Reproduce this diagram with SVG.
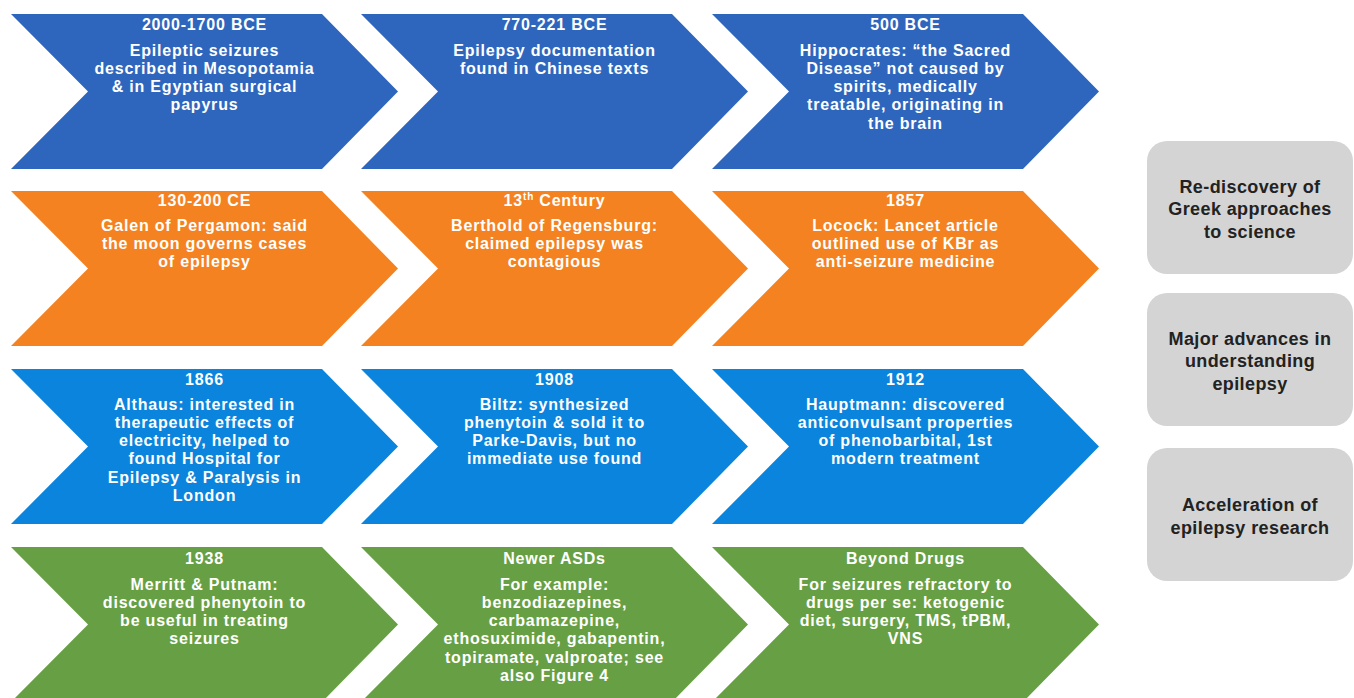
<svg xmlns="http://www.w3.org/2000/svg" width="1354" height="698" viewBox="0 0 1354 698">
<style>
.t{font-family:"Liberation Sans",Arial,sans-serif;font-weight:bold;font-size:16px;fill:#ffffff;text-anchor:middle;letter-spacing:0.8px}
.g{font-family:"Liberation Sans",Arial,sans-serif;font-weight:bold;font-size:18px;fill:#222222;text-anchor:middle;letter-spacing:0.4px}
.r1{fill:#2E66BE}.r2{fill:#F58220}.r3{fill:#0A84DD}.r4{fill:#67A044}
.box{fill:#D4D4D4}
</style>
<defs>
<path id="chev" d="M0 0 L311 0 L387 77.5 L311 155 L0 155 L77 77.5 Z"/>
</defs>
<rect width="1354" height="698" fill="#ffffff"/>
<g id="connectors"></g>

<!-- Row 1 -->
<g id="n-2000bce">
<use href="#chev" x="11" y="14" class="r1"/>
<text class="t" x="204.5"><tspan x="204.5" y="29.5">2000-1700 BCE</tspan><tspan x="204.5" y="55.5">Epileptic seizures</tspan><tspan x="204.5" y="73.8">described in Mesopotamia</tspan><tspan x="204.5" y="92.1">&amp; in Egyptian surgical</tspan><tspan x="204.5" y="110.4">papyrus</tspan></text>
</g>
<g id="n-770bce">
<use href="#chev" x="361" y="14" class="r1"/>
<text class="t"><tspan x="554.5" y="29.5">770-221 BCE</tspan><tspan x="554.5" y="55.5">Epilepsy documentation</tspan><tspan x="554.5" y="73.8">found in Chinese texts</tspan></text>
</g>
<g id="n-500bce">
<use href="#chev" x="712" y="14" class="r1"/>
<text class="t"><tspan x="905.5" y="29.5">500 BCE</tspan><tspan x="905.5" y="55.5">Hippocrates: “the Sacred</tspan><tspan x="905.5" y="73.8">Disease” not caused by</tspan><tspan x="905.5" y="92.1">spirits, medically</tspan><tspan x="905.5" y="110.4">treatable, originating in</tspan><tspan x="905.5" y="128.7">the brain</tspan></text>
</g>

<!-- Row 2 -->
<g id="n-130ce">
<use href="#chev" x="11" y="191" class="r2"/>
<text class="t"><tspan x="204.5" y="205.5">130-200 CE</tspan><tspan x="204.5" y="230.5">Galen of Pergamon: said</tspan><tspan x="204.5" y="248.8">the moon governs cases</tspan><tspan x="204.5" y="267.1">of epilepsy</tspan></text>
</g>
<g id="n-13th">
<use href="#chev" x="361" y="191" class="r2"/>
<text class="t"><tspan x="554.5" y="205.5">13<tspan dy="-6" font-size="10">th</tspan><tspan dy="6"> Century</tspan></tspan><tspan x="554.5" y="230.5">Berthold of Regensburg:</tspan><tspan x="554.5" y="248.8">claimed epilepsy was</tspan><tspan x="554.5" y="267.1">contagious</tspan></text>
</g>
<g id="n-1857">
<use href="#chev" x="712" y="191" class="r2"/>
<text class="t"><tspan x="905.5" y="205.5">1857</tspan><tspan x="905.5" y="230.5">Locock: Lancet article</tspan><tspan x="905.5" y="248.8">outlined use of KBr as</tspan><tspan x="905.5" y="267.1">anti-seizure medicine</tspan></text>
</g>

<!-- Row 3 -->
<g id="n-1866">
<use href="#chev" x="11" y="369" class="r3"/>
<text class="t"><tspan x="204.5" y="384.5">1866</tspan><tspan x="204.5" y="409.5">Althaus: interested in</tspan><tspan x="204.5" y="427.8">therapeutic effects of</tspan><tspan x="204.5" y="446.1">electricity, helped to</tspan><tspan x="204.5" y="464.4">found Hospital for</tspan><tspan x="204.5" y="482.7">Epilepsy &amp; Paralysis in</tspan><tspan x="204.5" y="501">London</tspan></text>
</g>
<g id="n-1908">
<use href="#chev" x="361" y="369" class="r3"/>
<text class="t"><tspan x="554.5" y="384.5">1908</tspan><tspan x="554.5" y="409.5">Biltz: synthesized</tspan><tspan x="554.5" y="427.8">phenytoin &amp; sold it to</tspan><tspan x="554.5" y="446.1">Parke-Davis, but no</tspan><tspan x="554.5" y="464.4">immediate use found</tspan></text>
</g>
<g id="n-1912">
<use href="#chev" x="712" y="369" class="r3"/>
<text class="t"><tspan x="905.5" y="384.5">1912</tspan><tspan x="905.5" y="409.5">Hauptmann: discovered</tspan><tspan x="905.5" y="427.8">anticonvulsant properties</tspan><tspan x="905.5" y="446.1">of phenobarbital, 1st</tspan><tspan x="905.5" y="464.4">modern treatment</tspan></text>
</g>

<!-- Row 4 -->
<g id="n-1938">
<use href="#chev" x="11" y="547" class="r4"/>
<text class="t"><tspan x="204.5" y="563.5">1938</tspan><tspan x="204.5" y="589.5">Merritt &amp; Putnam:</tspan><tspan x="204.5" y="607.8">discovered phenytoin to</tspan><tspan x="204.5" y="626.1">be useful in treating</tspan><tspan x="204.5" y="644.4">seizures</tspan></text>
</g>
<g id="n-newer">
<use href="#chev" x="361" y="547" class="r4"/>
<text class="t"><tspan x="554.5" y="563.5">Newer ASDs</tspan><tspan x="554.5" y="589.5">For example:</tspan><tspan x="554.5" y="607.8">benzodiazepines,</tspan><tspan x="554.5" y="626.1">carbamazepine,</tspan><tspan x="554.5" y="644.4">ethosuximide, gabapentin,</tspan><tspan x="554.5" y="662.7">topiramate, valproate; see</tspan><tspan x="554.5" y="681">also Figure 4</tspan></text>
</g>
<g id="n-beyond">
<use href="#chev" x="712" y="547" class="r4"/>
<text class="t"><tspan x="905.5" y="563.5">Beyond Drugs</tspan><tspan x="905.5" y="589.5">For seizures refractory to</tspan><tspan x="905.5" y="607.8">drugs per se: ketogenic</tspan><tspan x="905.5" y="626.1">diet, surgery, TMS, tPBM,</tspan><tspan x="905.5" y="644.4">VNS</tspan></text>
</g>

<!-- Gray boxes -->
<g id="n-greek">
<rect class="box" x="1147" y="141" width="206" height="133" rx="20"/>
<text class="g"><tspan x="1250" y="192.5">Re-discovery of</tspan><tspan x="1250" y="215">Greek approaches</tspan><tspan x="1250" y="237.5">to science</tspan></text>
</g>
<g id="n-major">
<rect class="box" x="1147" y="293" width="206" height="133" rx="20"/>
<text class="g"><tspan x="1250" y="344.5">Major advances in</tspan><tspan x="1250" y="367">understanding</tspan><tspan x="1250" y="389.5">epilepsy</tspan></text>
</g>
<g id="n-accel">
<rect class="box" x="1147" y="448" width="206" height="133" rx="20"/>
<text class="g"><tspan x="1250" y="511">Acceleration of</tspan><tspan x="1250" y="533.5">epilepsy research</tspan></text>
</g>
</svg>
